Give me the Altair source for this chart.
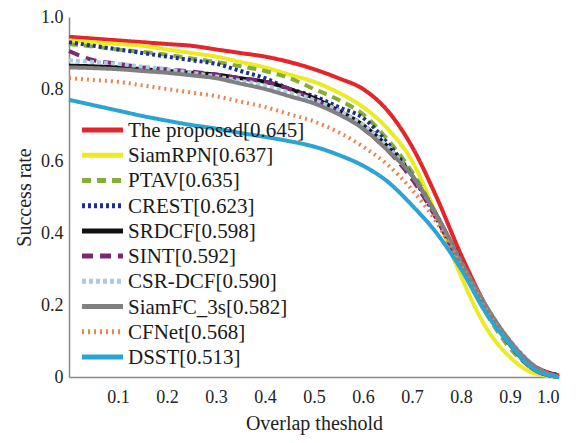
import altair as alt
import pandas as pd

thresholds = [0.0, 0.05, 0.1, 0.15, 0.2, 0.25, 0.3, 0.35, 0.4, 0.45, 0.5,
              0.55, 0.6, 0.65, 0.7, 0.75, 0.8, 0.85, 0.9, 0.95, 1.0]

trackers = ["The proposed[0.645]", "SiamRPN[0.637]", "PTAV[0.635]", "CREST[0.623]",
            "SRDCF[0.598]", "SINT[0.592]", "CSR-DCF[0.590]", "SiamFC_3s[0.582]",
            "CFNet[0.568]", "DSST[0.513]"]

proposed = [0.945, 0.94, 0.935, 0.93, 0.925, 0.92, 0.91, 0.90, 0.89, 0.875, 0.855,
            0.83, 0.80, 0.74, 0.64, 0.50, 0.34, 0.20, 0.09, 0.03, 0.005]
siamrpn = [0.935, 0.93, 0.925, 0.92, 0.91, 0.90, 0.89, 0.875, 0.86, 0.84, 0.82,
           0.79, 0.75, 0.69, 0.60, 0.45, 0.28, 0.14, 0.055, 0.01, 0.0]
ptav = [0.925, 0.918, 0.91, 0.903, 0.895, 0.885, 0.875, 0.863, 0.85, 0.83, 0.80,
        0.77, 0.73, 0.66, 0.57, 0.45, 0.31, 0.18, 0.08, 0.02, 0.0]
crest = [0.93, 0.92, 0.91, 0.90, 0.89, 0.88, 0.87, 0.85, 0.83, 0.80, 0.78,
         0.75, 0.72, 0.65, 0.56, 0.44, 0.31, 0.19, 0.10, 0.03, 0.005]
srdcf = [0.865, 0.863, 0.86, 0.855, 0.85, 0.845, 0.84, 0.83, 0.82, 0.80, 0.775,
         0.74, 0.70, 0.64, 0.56, 0.45, 0.32, 0.19, 0.09, 0.02, 0.0]
sint = [0.905, 0.88, 0.87, 0.86, 0.855, 0.848, 0.84, 0.83, 0.82, 0.80, 0.77,
        0.735, 0.69, 0.63, 0.55, 0.44, 0.31, 0.19, 0.09, 0.02, 0.0]
csrdcf = [0.88, 0.875, 0.87, 0.862, 0.855, 0.845, 0.835, 0.823, 0.81, 0.79, 0.77,
          0.74, 0.70, 0.64, 0.56, 0.45, 0.32, 0.20, 0.10, 0.03, 0.0]
siamfc = [0.86, 0.858, 0.855, 0.85, 0.845, 0.838, 0.83, 0.815, 0.80, 0.78, 0.76,
          0.73, 0.69, 0.63, 0.56, 0.45, 0.32, 0.20, 0.10, 0.03, 0.0]
cfnet = [0.83, 0.825, 0.82, 0.81, 0.80, 0.79, 0.78, 0.765, 0.75, 0.73, 0.71,
         0.68, 0.64, 0.59, 0.52, 0.43, 0.31, 0.19, 0.09, 0.02, 0.0]
dsst = [0.77, 0.755, 0.74, 0.725, 0.712, 0.70, 0.69, 0.678, 0.667, 0.655, 0.64,
        0.617, 0.587, 0.543, 0.477, 0.40, 0.30, 0.18, 0.09, 0.02, 0.0]

series = [proposed, siamrpn, ptav, crest, srdcf, sint, csrdcf, siamfc, cfnet, dsst]

colors = ["#e3262b", "#ecea22", "#86ad35", "#1e2f8f", "#111111",
          "#7b2a70", "#a9cbe3", "#808080", "#e88550", "#2ba3d3"]
dashes = [[1, 0], [1, 0], [9, 6], [3, 3], [1, 0],
          [11, 7], [4, 3], [1, 0], [2, 4], [1, 0]]

rows = []
for name, vals in zip(trackers, series):
    for t, v in zip(thresholds, vals):
        rows.append({"tracker": name, "threshold": t, "rate": v})
df = pd.DataFrame(rows)
legend_df = pd.DataFrame({"tracker": trackers})

serif = "'Liberation Serif', 'DejaVu Serif', serif"

color_enc = alt.Color("tracker:N", sort=trackers,
                      scale=alt.Scale(domain=trackers, range=colors), legend=None)
dash_enc = alt.StrokeDash("tracker:N", sort=trackers,
                          scale=alt.Scale(domain=trackers, range=dashes), legend=None)

lines = alt.Chart(df).mark_line(strokeWidth=4, interpolate="monotone").encode(
    x=alt.X("threshold:Q",
            scale=alt.Scale(domain=[0, 1.0], nice=False),
            axis=alt.Axis(title="Overlap theshold",
                          values=[0.1, 0.2, 0.3, 0.4, 0.5, 0.6, 0.7, 0.8, 0.9, 1.0],
                          format=".1f", grid=False, ticks=False, labelPadding=11,
                          titlePadding=7, domainColor="#888888", domainWidth=1.5)),
    y=alt.Y("rate:Q",
            scale=alt.Scale(domain=[0, 1.0], nice=False),
            axis=alt.Axis(title="Success rate", values=[0, 0.2, 0.4, 0.6, 0.8, 1.0],
                          labelExpr="datum.value == 0 ? '0' : format(datum.value, '.1f')",
                          grid=False, ticks=False, labelPadding=6, titlePadding=6,
                          domainColor="#888888", domainWidth=1.5)),
    color=color_enc,
    strokeDash=dash_enc,
)

legend_y = alt.Y("tracker:N", sort=trackers,
                 scale=alt.Scale(type="point", domain=trackers, range=[113, 340], padding=0),
                 axis=None)

legend_symbols = alt.Chart(legend_df).mark_rule(strokeWidth=5).encode(
    x=alt.value(13), x2=alt.value(54),
    y=legend_y,
    color=color_enc,
    strokeDash=dash_enc,
)

legend_labels = alt.Chart(legend_df).mark_text(
    align="left", baseline="middle", font=serif, fontSize=21, color="#1a1a1a", dy=1
).encode(
    x=alt.value(59),
    y=legend_y,
    text="tracker:N",
)

chart = alt.layer(lines, legend_symbols, legend_labels).resolve_scale(
    y="independent"
).properties(
    width=490, height=360,
    autosize=alt.AutoSizeParams(type="none"),
    padding={"left": 61, "top": 9, "right": 20, "bottom": 58},
).configure_axis(
    labelFont=serif, titleFont=serif, labelFontSize=18, titleFontSize=20,
    labelColor="#222222", titleColor="#222222", titleFontWeight="normal",
).configure_view(stroke=None)

chart.save("out.html", embed_options={"renderer": "svg", "actions": False})
